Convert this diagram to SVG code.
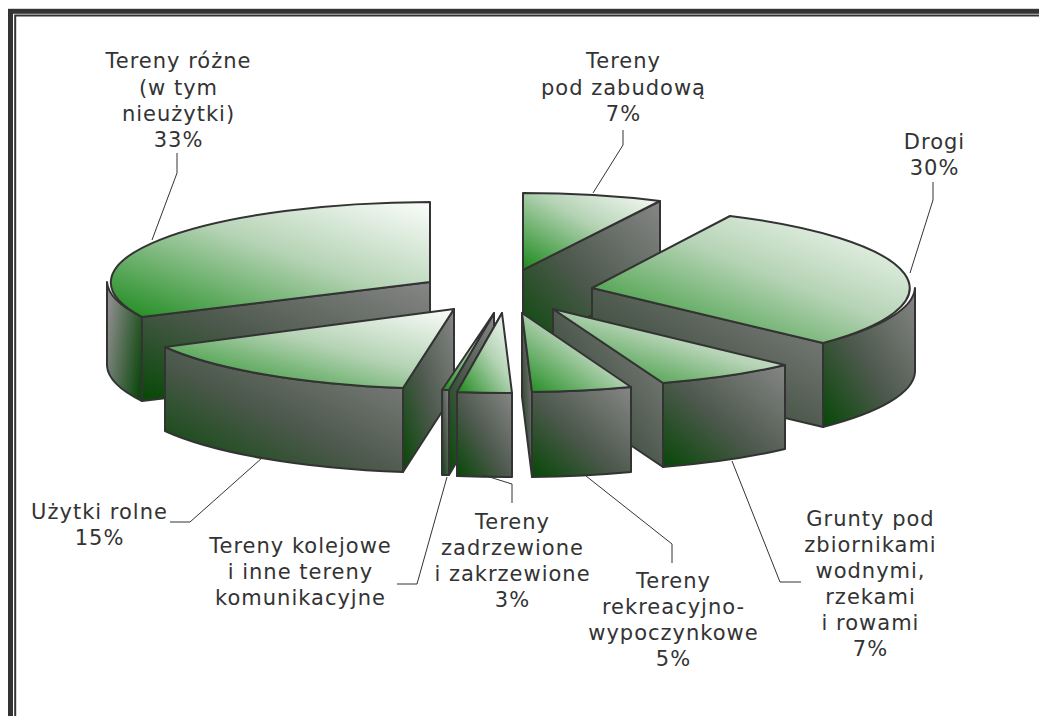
<svg xmlns="http://www.w3.org/2000/svg" width="1039" height="716" viewBox="0 0 1039 716">
<style>
.face{stroke:#333;stroke-width:2;stroke-linejoin:round}
.top{fill:url(#topGrad)}
.side{fill:url(#sideGrad)}
.wallA{fill:url(#wallAGrad)}
.lbl{font-family:"DejaVu Sans",Verdana,sans-serif;font-size:21px;fill:#333;text-anchor:middle;letter-spacing:1px}
.lead{fill:none;stroke:#333;stroke-width:1}
</style>
<defs>
<linearGradient id="topGrad" x1="0" y1="1" x2="1" y2="0">
<stop offset="0" stop-color="#1c8a1c"/>
<stop offset="0.55" stop-color="#b5d3b5"/>
<stop offset="1" stop-color="#fbfdfb"/>
</linearGradient>
<linearGradient id="sideGrad" x1="0" y1="1" x2="1" y2="0">
<stop offset="0" stop-color="#064806"/>
<stop offset="0.45" stop-color="#4c584c"/>
<stop offset="1" stop-color="#868686"/>
</linearGradient>
<linearGradient id="wallAGrad" x1="0" y1="0.3" x2="1" y2="0.8">
<stop offset="0" stop-color="#8c8c8c"/>
<stop offset="1" stop-color="#0d470d"/>
</linearGradient>
</defs>
<rect width="1039" height="716" fill="#fff"/>
<g id="frame" fill="none" stroke="#333">
<rect x="10.5" y="11.3" width="1100" height="800" stroke-width="5"/>
<rect x="15.2" y="15.5" width="1100" height="800" stroke-width="2"/>
</g>
<g id="slice-tereny-rozne">
<path class="face wallA" d="M107,282 A323,80.5 0 0 0 142,317 L142,401 A323,80.5 0 0 1 107,366 Z"/>
<path class="face side" d="M142,317 L430,282 L430,366 L142,401 Z"/>
<path class="face top" d="M430,282 L430,202 A323,80.5 0 0 0 142,317 Z"/>
</g>
<g id="slice-zabudowa">
<path class="face side" d="M523,270 L660,201 L660,281 L523,350 Z"/>
<path class="face top" d="M523,270 L523,193 A310,77 0 0 1 660,201 Z"/>
</g>
<g id="slice-drogi">
<path class="face side" d="M592,288 L823,343 L823,427 L592,372 Z"/>
<path class="face side" d="M823,343 A323,80.5 0 0 0 915,288 L915,372 A323,80.5 0 0 1 823,427 Z"/>
<path class="face top" d="M592,288 L823,343 A323,80.5 0 0 0 730,216 Z"/>
</g>
<g id="slice-uzytki-rolne">
<path class="face side" d="M454,309 L403,388 L403,472 L454,393 Z"/>
<path class="face side" d="M165,347 A323,80.5 0 0 0 403,388 L403,472 A323,80.5 0 0 1 165,431 Z"/>
<path class="face top" d="M454,309 L165,347 A323,80.5 0 0 0 403,388 Z"/>
</g>
<g id="slice-kolejowe">
<path class="face side" d="M494,313 L449,390 L449,475 L494,398 Z"/>
<path class="face side" d="M442,390 L449,390 L449,475 L442,475 Z"/>
<path class="face top" d="M494,313 L442,390 L449,390 Z"/>
</g>
<g id="slice-zadrzewione">
<path class="face side" d="M502,313 L457,392 L457,476 L502,397 Z"/>
<path class="face side" d="M457,392 A323,80.5 0 0 0 512,393 L512,477 A323,80.5 0 0 1 457,476 Z"/>
<path class="face top" d="M502,313 L457,392 A323,80.5 0 0 0 512,393 Z"/>
</g>
<g id="slice-grunty">
<path class="face side" d="M553,309 L663,383 L663,467 L553,393 Z"/>
<path class="face side" d="M663,383 A323,80.5 0 0 0 785,365 L785,449 A323,80.5 0 0 1 663,467 Z"/>
<path class="face top" d="M553,309 L663,383 A323,80.5 0 0 0 785,365 Z"/>
</g>
<g id="slice-rekreacyjno">
<path class="face side" d="M522,313 L532,392 L532,477 L522,397 Z"/>
<path class="face side" d="M532,392 A323,80.5 0 0 0 631,387 L631,472 A323,80.5 0 0 1 532,477 Z"/>
<path class="face top" d="M522,313 L532,392 A323,80.5 0 0 0 631,387 Z"/>
</g>
<g id="connectors">
<polyline class="lead" points="177,153 177,173 152,240"/>
<polyline class="lead" points="623,130 623,145 593,193"/>
<polyline class="lead" points="933,182 933,200 910,273"/>
<polyline class="lead" points="170,522 190,522 262,458"/>
<polyline class="lead" points="397,584 417,584 447,477"/>
<polyline class="lead" points="483,475 512,484 512,503"/>
<polyline class="lead" points="586,476 672,544 672,563"/>
<polyline class="lead" points="801,582 780,582 732,461"/>
</g>
<g id="label-tereny-rozne" class="lbl">
<text x="178.5" y="68">Tereny różne</text>
<text x="178.5" y="94.5">(w tym</text>
<text x="178.5" y="121">nieużytki)</text>
<text x="178.5" y="147">33%</text>
</g>
<g id="label-zabudowa" class="lbl">
<text x="623.5" y="68">Tereny</text>
<text x="623.5" y="94.5">pod zabudową</text>
<text x="623.5" y="120.5">7%</text>
</g>
<g id="label-drogi" class="lbl">
<text x="934.5" y="149">Drogi</text>
<text x="934.5" y="175">30%</text>
</g>
<g id="label-uzytki" class="lbl">
<text x="99.5" y="518.5">Użytki rolne</text>
<text x="99.5" y="544.5">15%</text>
</g>
<g id="label-kolejowe" class="lbl">
<text x="300.5" y="553">Tereny kolejowe</text>
<text x="300.5" y="579">i inne tereny</text>
<text x="300.5" y="605">komunikacyjne</text>
</g>
<g id="label-zadrzewione" class="lbl">
<text x="512.5" y="529">Tereny</text>
<text x="512.5" y="555">zadrzewione</text>
<text x="512.5" y="581">i zakrzewione</text>
<text x="512.5" y="607">3%</text>
</g>
<g id="label-rekreacyjno" class="lbl">
<text x="673.5" y="588">Tereny</text>
<text x="673.5" y="614">rekreacyjno-</text>
<text x="673.5" y="640">wypoczynkowe</text>
<text x="673.5" y="666">5%</text>
</g>
<g id="label-grunty" class="lbl">
<text x="870.5" y="526">Grunty pod</text>
<text x="870.5" y="552">zbiornikami</text>
<text x="870.5" y="578">wodnymi,</text>
<text x="870.5" y="604">rzekami</text>
<text x="870.5" y="630">i rowami</text>
<text x="870.5" y="656">7%</text>
</g>
</svg>
